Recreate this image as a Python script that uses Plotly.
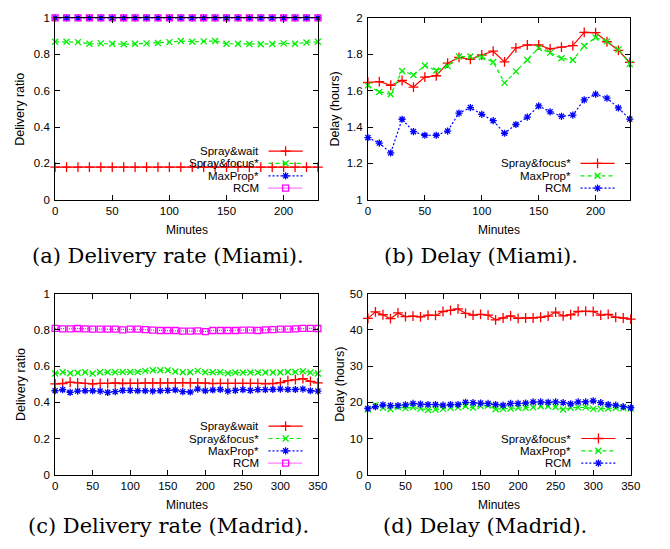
import plotly.graph_objects as go

# ---------------- data ----------------
minutes_miami = [0, 10, 20, 30, 40, 50, 60, 70, 80, 90, 100, 110, 120, 130, 140, 150,
                 160, 170, 180, 190, 200, 210, 220, 230]
minutes_madrid = [0, 10, 20, 30, 40, 50, 60, 70, 80, 90, 100, 110, 120, 130, 140, 150,
                  160, 170, 180, 190, 200, 210, 220, 230, 240, 250, 260, 270, 280, 290,
                  300, 310, 320, 330, 340, 350]

# (a) Delivery rate (Miami)
a_spray_wait = [0.18, 0.18, 0.18, 0.18, 0.18, 0.18, 0.18, 0.18, 0.18, 0.18, 0.18, 0.18,
                0.18, 0.18, 0.18, 0.18, 0.18, 0.18, 0.18, 0.18, 0.18, 0.18, 0.18, 0.18]
a_spray_focus = [0.869, 0.869, 0.867, 0.858, 0.860, 0.858, 0.855, 0.858, 0.860, 0.862,
                 0.867, 0.873, 0.869, 0.871, 0.873, 0.858, 0.858, 0.857, 0.855, 0.857,
                 0.860, 0.858, 0.865, 0.869]
a_maxprop = [1.0, 1.0, 1.0, 1.0, 1.0, 1.0, 1.0, 1.0, 1.0, 1.0, 1.0, 1.0,
             1.0, 1.0, 1.0, 1.0, 1.0, 1.0, 1.0, 1.0, 1.0, 1.0, 1.0, 1.0]
a_rcm = [1.0, 1.0, 1.0, 1.0, 1.0, 1.0, 1.0, 1.0, 1.0, 1.0, 1.0, 1.0,
         1.0, 1.0, 1.0, 1.0, 1.0, 1.0, 1.0, 1.0, 1.0, 1.0, 1.0, 1.0]

# (b) Delay (Miami), hours
b_spray_focus = [1.645, 1.650, 1.630, 1.656, 1.620, 1.675, 1.682, 1.751, 1.783, 1.772,
                 1.796, 1.817, 1.758, 1.835, 1.851, 1.851, 1.830, 1.839, 1.848, 1.921,
                 1.919, 1.869, 1.822, 1.756]
b_maxprop = [1.629, 1.593, 1.580, 1.708, 1.686, 1.738, 1.711, 1.735, 1.788, 1.788,
             1.785, 1.758, 1.643, 1.706, 1.769, 1.835, 1.808, 1.778, 1.769, 1.846,
             1.892, 1.871, 1.826, 1.747]
b_rcm = [1.342, 1.312, 1.258, 1.443, 1.375, 1.355, 1.355, 1.378, 1.477, 1.507,
         1.470, 1.435, 1.366, 1.414, 1.455, 1.516, 1.484, 1.459, 1.466, 1.550,
         1.581, 1.559, 1.505, 1.444]

# (c) Delivery rate (Madrid)
c_spray_wait = [0.502, 0.504, 0.511, 0.507, 0.505, 0.502, 0.505, 0.505, 0.507, 0.504,
                0.505, 0.505, 0.507, 0.507, 0.507, 0.507, 0.507, 0.509, 0.507, 0.507,
                0.507, 0.504, 0.505, 0.505, 0.505, 0.505, 0.505, 0.505, 0.502, 0.504,
                0.509, 0.520, 0.525, 0.531, 0.516, 0.507]
c_spray_focus = [0.559, 0.566, 0.561, 0.563, 0.566, 0.559, 0.566, 0.566, 0.566, 0.568,
                 0.568, 0.568, 0.574, 0.577, 0.577, 0.577, 0.570, 0.566, 0.566, 0.574,
                 0.566, 0.566, 0.566, 0.561, 0.565, 0.565, 0.565, 0.565, 0.565, 0.565,
                 0.565, 0.568, 0.568, 0.572, 0.565, 0.559]
c_maxprop = [0.464, 0.470, 0.455, 0.462, 0.464, 0.464, 0.462, 0.455, 0.459, 0.466,
             0.466, 0.464, 0.464, 0.462, 0.464, 0.466, 0.468, 0.459, 0.457, 0.473,
             0.464, 0.468, 0.471, 0.462, 0.466, 0.470, 0.466, 0.470, 0.470, 0.471,
             0.473, 0.471, 0.471, 0.473, 0.464, 0.462]
c_rcm = [0.809, 0.806, 0.806, 0.808, 0.806, 0.804, 0.804, 0.804, 0.804, 0.800,
         0.804, 0.804, 0.802, 0.799, 0.797, 0.797, 0.797, 0.793, 0.793, 0.795,
         0.791, 0.797, 0.797, 0.797, 0.797, 0.799, 0.799, 0.797, 0.800, 0.802,
         0.804, 0.804, 0.806, 0.809, 0.809, 0.808]

# (d) Delay (Madrid), hours
d_spray_focus = [43.2, 45.0, 44.2, 43.1, 44.7, 43.7, 43.8, 43.6, 44.1, 44.0,
                 45.1, 45.4, 45.8, 44.6, 44.1, 44.3, 44.1, 42.8, 43.3, 43.9,
                 43.2, 43.3, 43.3, 43.5, 43.8, 44.9, 43.9, 44.2, 45.1, 45.2,
                 45.1, 44.1, 44.3, 43.5, 43.3, 43.0]
d_maxprop = [18.0, 19.3, 18.5, 18.1, 18.7, 18.4, 18.6, 18.3, 17.9, 18.0,
             18.2, 18.5, 18.6, 18.9, 18.5, 19.0, 19.1, 18.1, 18.2, 18.3,
             18.5, 18.5, 18.6, 18.9, 18.9, 18.7, 18.0, 18.5, 18.6, 18.6,
             18.2, 18.2, 18.3, 18.5, 18.4, 18.3]
d_rcm = [18.3, 18.8, 19.3, 19.1, 19.1, 19.3, 19.7, 19.5, 19.4, 19.4,
         19.2, 19.4, 19.4, 20.0, 19.9, 19.8, 19.7, 19.4, 19.2, 19.7,
         19.7, 19.8, 20.1, 20.1, 20.0, 20.1, 19.9, 19.6, 20.1, 20.1,
         20.4, 19.9, 19.4, 19.2, 18.8, 18.5]

captions = ["(a) Delivery rate (Miami).", "(b) Delay (Miami).",
            "(c) Delivery rate (Madrid).", "(d) Delay (Madrid)."]

# ---------------- styles ----------------
W, H = 670, 549
OFF = 8  # default page margin of the html body
RED, GREEN, BLUE, MAGENTA = "#ff0000", "#00f000", "#0000ff", "#ff00ff"
STY = {
    "Spray&wait": dict(color=RED, dash="solid", symbol="cross-thin-open", size=7),
    "Spray&focus*": dict(color=GREEN, dash="4px,3px", symbol="x-thin-open", size=6),
    "MaxProp*": dict(color=BLUE, dash="2px,2px", symbol="asterisk-open", size=6),
    "RCM": dict(color=MAGENTA, dash="1px,1px", symbol="square-open", size=6),
}
# the delay plots use a shifted colour cycle
STY_DELAY = {
    "Spray&focus*": STY["Spray&wait"],
    "MaxProp*": STY["Spray&focus*"],
    "RCM": STY["MaxProp*"],
}
SANS = "Liberation Sans, Arial, Helvetica, sans-serif"
SERIF = "DejaVu Serif, serif"


def px_x(p):
    return (p - OFF) / W


def px_y(p):
    return 1 - (p - OFF) / H


fig = go.Figure()


def add_series(x, y, name, sty, n):
    xa = "x" if n == 1 else f"x{n}"
    ya = "y" if n == 1 else f"y{n}"
    fig.add_trace(go.Scatter(
        x=x, y=y, name=name, mode="lines+markers", xaxis=xa, yaxis=ya,
        line=dict(color=sty["color"], width=1.2, dash=sty["dash"]),
        marker=dict(symbol=sty["symbol"], size=sty["size"], color=sty["color"],
                    line=dict(color=sty["color"], width=1.3)),
        cliponaxis=False, showlegend=False))


add_series(minutes_miami, a_spray_wait, "Spray&wait", STY["Spray&wait"], 1)
add_series(minutes_miami, a_spray_focus, "Spray&focus*", STY["Spray&focus*"], 1)
add_series(minutes_miami, a_maxprop, "MaxProp*", STY["MaxProp*"], 1)
add_series(minutes_miami, a_rcm, "RCM", STY["RCM"], 1)

add_series(minutes_miami, b_spray_focus, "Spray&focus*", STY_DELAY["Spray&focus*"], 2)
add_series(minutes_miami, b_maxprop, "MaxProp*", STY_DELAY["MaxProp*"], 2)
add_series(minutes_miami, b_rcm, "RCM", STY_DELAY["RCM"], 2)

add_series(minutes_madrid, c_spray_wait, "Spray&wait", STY["Spray&wait"], 3)
add_series(minutes_madrid, c_spray_focus, "Spray&focus*", STY["Spray&focus*"], 3)
add_series(minutes_madrid, c_maxprop, "MaxProp*", STY["MaxProp*"], 3)
add_series(minutes_madrid, c_rcm, "RCM", STY["RCM"], 3)

add_series(minutes_madrid, d_spray_focus, "Spray&focus*", STY_DELAY["Spray&focus*"], 4)
add_series(minutes_madrid, d_maxprop, "MaxProp*", STY_DELAY["MaxProp*"], 4)
add_series(minutes_madrid, d_rcm, "RCM", STY_DELAY["RCM"], 4)

# ---------------- axes ----------------
panels = {
    1: dict(x=(53, 321), y=(12, 198), xr=[0, 230], yr=[0, 1], dy=0.2),
    2: dict(x=(372, 639), y=(12, 198), xr=[0, 230], yr=[1, 2], dy=0.2),
    3: dict(x=(53, 321), y=(294, 479), xr=[0, 350], yr=[0, 1], dy=0.2),
    4: dict(x=(372, 640), y=(294, 479), xr=[0, 350], yr=[0, 50], dy=10),
}
axis_common = dict(showline=True, linecolor="black", linewidth=1, mirror="ticks",
                   ticks="inside", ticklen=5, tickcolor="black", tickwidth=1,
                   showgrid=False, zeroline=False,
                   tickfont=dict(family=SANS, size=11.5, color="black"))
layout = {}
for n, p in panels.items():
    sx = "" if n == 1 else str(n)
    layout[f"xaxis{sx}"] = dict(axis_common, domain=[px_x(p["x"][0]), px_x(p["x"][1])],
                                anchor=f"y{sx}", range=p["xr"], tick0=0, dtick=50,
                                ticklabelstandoff=0)
    layout[f"yaxis{sx}"] = dict(axis_common, domain=[px_y(p["y"][1]), px_y(p["y"][0])],
                                anchor=f"x{sx}", range=p["yr"], tick0=0, dtick=p["dy"],
                                ticklabelstandoff=2)
    # invisible overlay axes (0..1) used to draw the gnuplot-style key samples
    m = n + 4
    layout[f"xaxis{m}"] = dict(overlaying=f"x{sx}", anchor=f"y{m}", range=[0, 1],
                               visible=False)
    layout[f"yaxis{m}"] = dict(overlaying=f"y{sx}", anchor=f"x{m}", range=[0, 1],
                               visible=False)

# ---------------- keys (text left, sample right, like gnuplot) ----------------
annotations = []
key_rows4 = [0.268, 0.200, 0.132, 0.064]
key_rows3 = [0.200, 0.132, 0.064]
keys = {
    1: (["Spray&wait", "Spray&focus*", "MaxProp*", "RCM"], STY, key_rows4),
    2: (["Spray&focus*", "MaxProp*", "RCM"], STY_DELAY, key_rows3),
    3: (["Spray&wait", "Spray&focus*", "MaxProp*", "RCM"], STY, key_rows4),
    4: (["Spray&focus*", "MaxProp*", "RCM"], STY_DELAY, key_rows3),
}
for n, (names, sty_map, rows) in keys.items():
    m = n + 4
    sx = "" if n == 1 else str(n)
    for name, yy in zip(names, rows):
        s = sty_map[name]
        fig.add_trace(go.Scatter(
            x=[0.812, 0.942], y=[yy, yy], mode="lines", xaxis=f"x{m}", yaxis=f"y{m}",
            line=dict(color=s["color"], width=1.2, dash=s["dash"]),
            showlegend=False, hoverinfo="skip"))
        fig.add_trace(go.Scatter(
            x=[0.877], y=[yy], mode="markers", xaxis=f"x{m}", yaxis=f"y{m}",
            marker=dict(symbol=s["symbol"], size=s["size"],
                        color=s["color"], line=dict(color=s["color"], width=1.3)),
            showlegend=False, hoverinfo="skip"))
        annotations.append(dict(
            text=name, x=0.782, y=yy, xref=f"x{sx} domain", yref=f"y{sx} domain",
            xanchor="right", yanchor="middle", showarrow=False,
            font=dict(family=SANS, size=11.5, color="black")))

# ---------------- axis titles & captions ----------------
xt_y = {1: 229, 2: 229, 3: 509.5, 4: 509.5}
yt_x = {1: 17, 2: 338, 3: 18, 4: 344}
ytitles = {1: "Delivery ratio", 2: "Delay (hours)", 3: "Delivery ratio", 4: "Delay (hours)"}
cap_pos = {1: (168, 255), 2: (487, 255), 3: (169, 531.5), 4: (491, 531.5)}
for n, p in panels.items():
    cx = (p["x"][0] + p["x"][1]) / 2
    cy = (p["y"][0] + p["y"][1]) / 2
    annotations.append(dict(text="Minutes", x=px_x(cx), y=px_y(xt_y[n]), xref="paper",
                            yref="paper", xanchor="center", yanchor="middle",
                            showarrow=False, font=dict(family=SANS, size=12, color="black")))
    annotations.append(dict(text=ytitles[n], x=px_x(yt_x[n]), y=px_y(cy), xref="paper",
                            yref="paper", xanchor="center", yanchor="middle",
                            textangle=-90, showarrow=False,
                            font=dict(family=SANS, size=12.5, color="black")))
    annotations.append(dict(text=captions[n - 1], x=px_x(cap_pos[n][0]),
                            y=px_y(cap_pos[n][1]), xref="paper", yref="paper",
                            xanchor="center", yanchor="middle", showarrow=False,
                            font=dict(family=SERIF, size=21, color="black")))

fig.update_layout(width=W, height=H, margin=dict(l=0, r=0, t=0, b=0),
                  paper_bgcolor="white", plot_bgcolor="white", showlegend=False,
                  annotations=annotations, **layout)

fig.write_html("out.html")
